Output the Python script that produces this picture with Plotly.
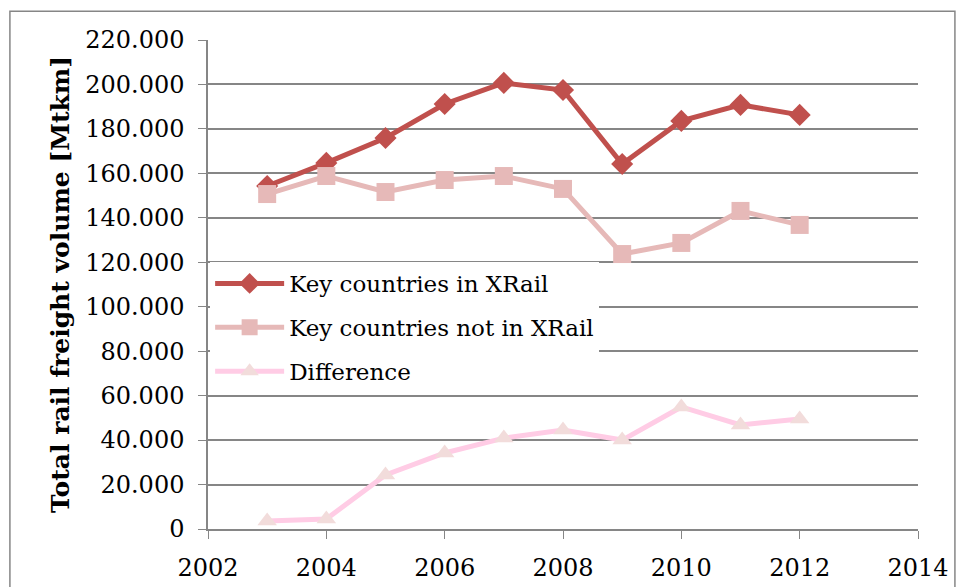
import plotly.graph_objects as go

years = [2003, 2004, 2005, 2006, 2007, 2008, 2009, 2010, 2011, 2012]
in_xrail = [154.3, 164.7, 175.9, 191.2, 200.7, 197.5, 164.2, 183.6, 190.8, 186.3]
not_in_xrail = [150.7, 158.8, 151.6, 157.0, 158.8, 153.0, 123.7, 128.7, 143.1, 136.8]
difference = [3.6, 4.5, 24.3, 34.2, 40.9, 44.5, 40.0, 54.9, 46.8, 49.5]

y_ticks = [0, 20, 40, 60, 80, 100, 120, 140, 160, 180, 200, 220]
y_tick_text = ["0", "20.000", "40.000", "60.000", "80.000", "100.000", "120.000",
               "140.000", "160.000", "180.000", "200.000", "220.000"]
x_ticks = [2002, 2004, 2006, 2008, 2010, 2012, 2014]

serif = "Georgia, 'DejaVu Serif', 'Liberation Serif', serif"
grid_grey = "#868686"

fig = go.Figure()
fig.add_trace(go.Scatter(
    x=years, y=in_xrail, name="Key countries in XRail", mode="lines+markers",
    legendgroup="a",
    line=dict(color="#C0504D", width=5),
    marker=dict(symbol="diamond", size=17, color="#C0504D"),
))
fig.add_trace(go.Scatter(
    x=years, y=not_in_xrail, name="Key countries not in XRail", mode="lines+markers",
    legendgroup="b",
    line=dict(color="#E6B9B8", width=5),
    marker=dict(symbol="square", size=18, color="#E6B9B8"),
))
fig.add_trace(go.Scatter(
    x=years, y=difference, name="Difference", mode="lines+markers",
    legendgroup="c",
    line=dict(color="#FFCCE5", width=5),
    marker=dict(symbol="triangle-up", size=17, color="#F2DCDB"),
))

fig.update_layout(
    width=964, height=587,
    margin=dict(l=208, r=46, t=40, b=58),
    paper_bgcolor="white", plot_bgcolor="white",
    font=dict(family=serif, color="black", size=22),
    showlegend=True,
    legend=dict(
        x=0.003, y=0.546, xanchor="left", yanchor="top",
        bgcolor="white", font=dict(size=23, family=serif),
        traceorder="grouped", tracegroupgap=11,
        itemwidth=69,
    ),
    xaxis=dict(
        range=[2002, 2014], tickvals=x_ticks, showgrid=False,
        showline=True, linecolor=grid_grey, linewidth=1.5,
        ticks="outside", ticklen=8, tickcolor=grid_grey,
        tickfont=dict(size=24), ticklabelstandoff=8, zeroline=False,
        automargin=False,
    ),
    yaxis=dict(
        range=[0, 220], tickvals=y_ticks, ticktext=y_tick_text,
        showgrid=True, gridcolor=grid_grey, gridwidth=1.5,
        showline=True, linecolor=grid_grey, linewidth=1.5,
        ticks="outside", ticklen=8, tickcolor=grid_grey,
        tickfont=dict(size=24), ticklabelstandoff=9, zeroline=False,
        automargin=False,
        title=dict(text="<b>Total rail freight volume [Mtkm]</b>",
                   font=dict(size=25), standoff=8),
    ),
    shapes=[dict(
        type="rect", xref="paper", yref="paper",
        x0=-0.279, x1=1.052, y0=-0.3, y1=1.059,
        line=dict(color=grid_grey, width=1.5), fillcolor="rgba(0,0,0,0)",
        layer="below",
    )],
)

fig.write_html("out.html")
